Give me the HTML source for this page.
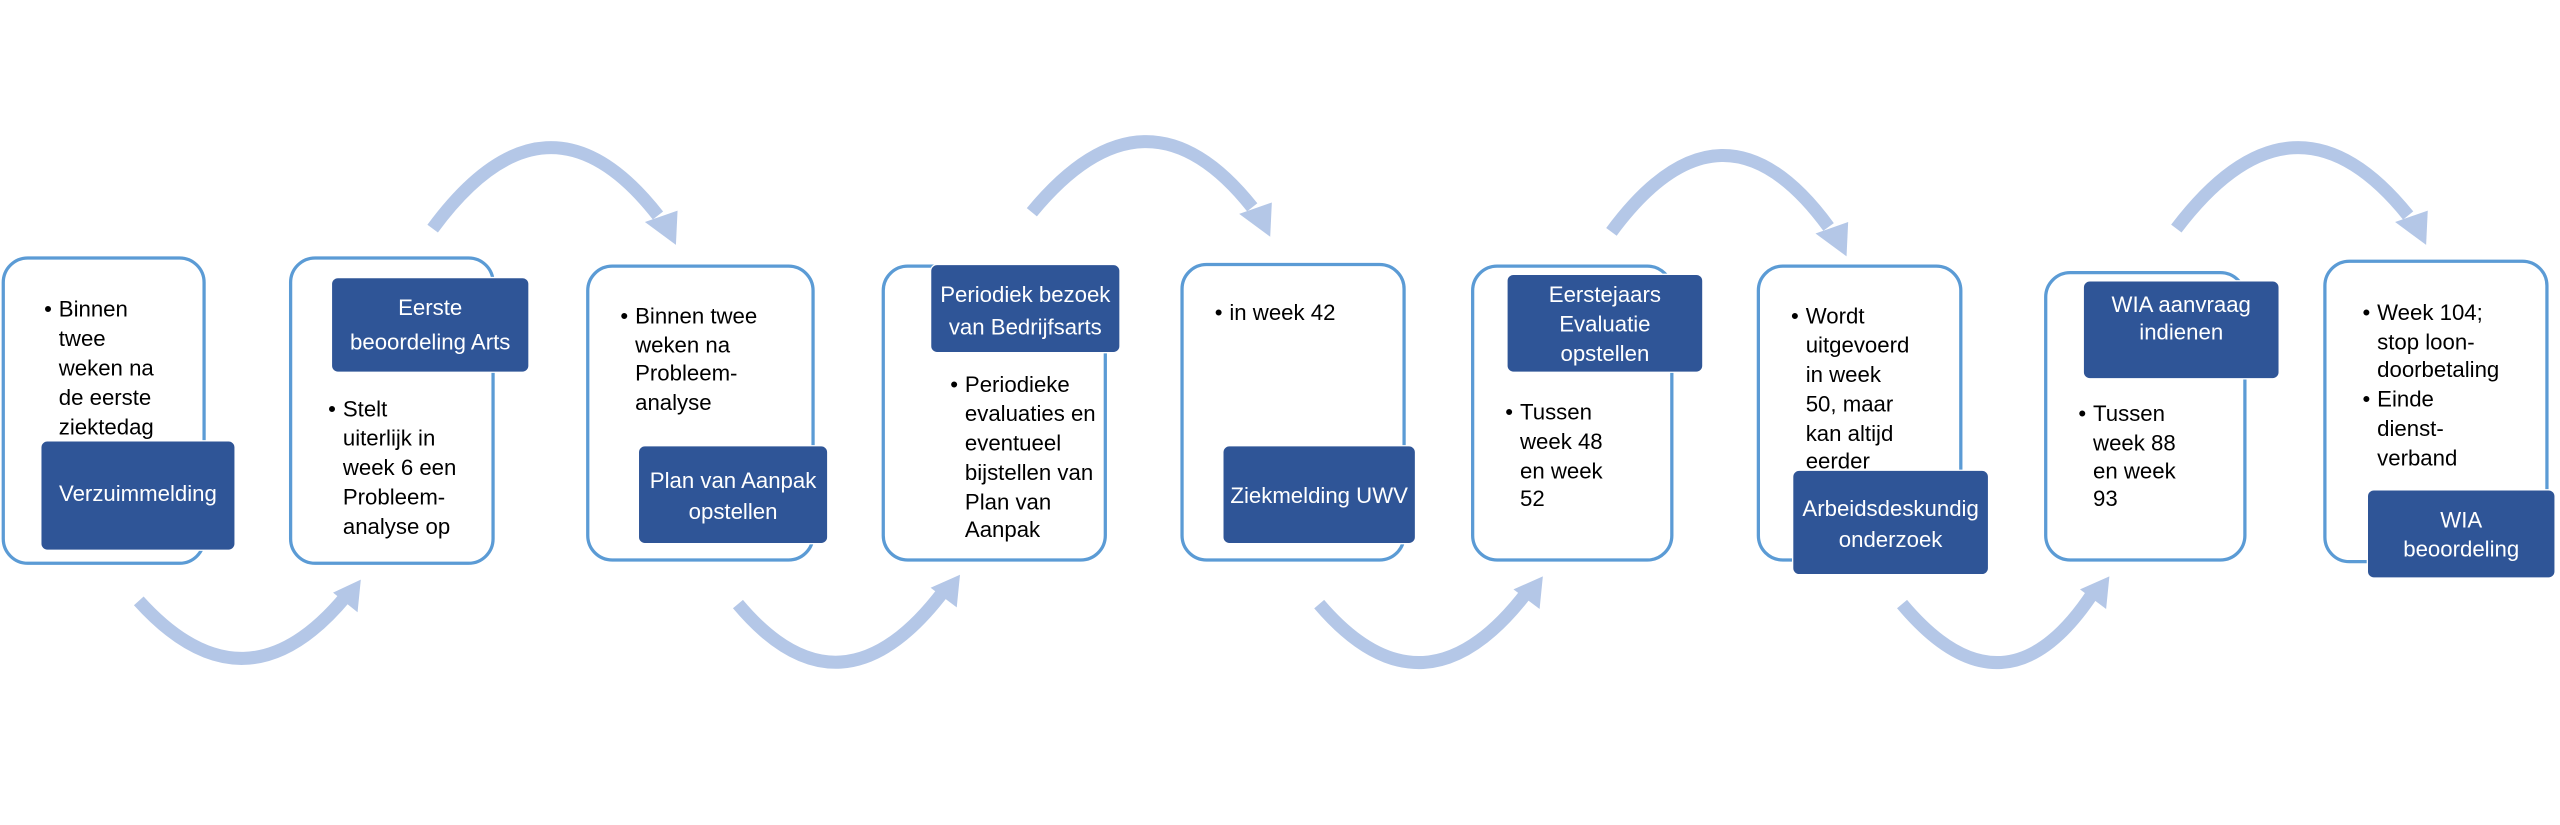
<!DOCTYPE html>
<html><head><meta charset="utf-8"><style>
html,body{margin:0;padding:0;background:#fff;width:2560px;height:825px;overflow:hidden}
svg{display:block}
text{font-family:"Liberation Sans",sans-serif;font-size:13.6px;fill:#000}
.w{fill:#fff;font-size:13.6px}
.b{fill:#fff;stroke:#5B9BD5;stroke-width:2}
.d{fill:#2F5597;stroke:#fff;stroke-width:0.8}
.a{fill:none;stroke:#B4C7E7;stroke-width:8}
.h{fill:#B4C7E7}
</style></head><body>
<svg width="2560" height="825" viewBox="0 0 1568 505.3" preserveAspectRatio="none">
<g>
<path class="a" d="M265,140 Q335,45 403,132"/><polygon class="h" points="395,136 415,129 414,150"/>
<path class="a" d="M632,130 Q702,45 767,127"/><polygon class="h" points="759,131 779,124 778,145"/>
<path class="a" d="M987,142 Q1055,50 1120,139"/><polygon class="h" points="1112,143 1132,136 1131,157"/>
<path class="a" d="M1333,140 Q1405,45 1475,132"/><polygon class="h" points="1467,136 1487,129 1486,150"/>
</g>
<g>
<path class="a" d="M85,368 Q150,440 212,365"/><polygon class="h" points="204,363 221,355 219,375"/>
<path class="a" d="M452,370 Q515,445 578,362"/><polygon class="h" points="570,360 588,352 586,372"/>
<path class="a" d="M808,370 Q872,445 935,363"/><polygon class="h" points="927,361 945,353 943,373"/>
<path class="a" d="M1165,370 Q1228,445 1282,363"/><polygon class="h" points="1274,361 1292,353 1290,373"/>
</g>
<rect class="b" x="2" y="158" width="123" height="187" rx="15"/>
<rect class="d" x="25" y="270" width="119" height="67" rx="4"/>
<text x="27" y="194">•</text><text x="36" y="194">Binnen</text><text x="36" y="212">twee</text><text x="36" y="230">weken na</text><text x="36" y="248">de eerste</text><text x="36" y="266">ziektedag</text>
<text class="w" x="84.5" y="307" text-anchor="middle">Verzuimmelding</text>

<rect class="b" x="178" y="158" width="124" height="187" rx="15"/>
<rect class="d" x="203" y="170" width="121" height="58" rx="4"/>
<text class="w" x="263.5" y="193" text-anchor="middle">Eerste</text><text class="w" x="263.5" y="214" text-anchor="middle">beoordeling Arts</text>
<text x="201" y="255">•</text><text x="210" y="255">Stelt</text><text x="210" y="273">uiterlijk in</text><text x="210" y="291">week 6 een</text><text x="210" y="309">Probleem-</text><text x="210" y="327">analyse op</text>

<rect class="b" x="360" y="163" width="138" height="180" rx="15"/>
<rect class="d" x="391" y="273" width="116" height="60" rx="4"/>
<text x="380" y="198">•</text><text x="389" y="198">Binnen twee</text><text x="389" y="216">weken na</text><text x="389" y="233">Probleem-</text><text x="389" y="251">analyse</text>
<text class="w" x="449" y="299" text-anchor="middle">Plan van Aanpak</text><text class="w" x="449" y="318" text-anchor="middle">opstellen</text>

<rect class="b" x="541" y="163" width="136" height="180" rx="15"/>
<rect class="d" x="570" y="162" width="116" height="54" rx="4"/>
<text class="w" x="628" y="185" text-anchor="middle">Periodiek bezoek</text><text class="w" x="628" y="205" text-anchor="middle">van Bedrijfsarts</text>
<text x="582" y="240">•</text><text x="591" y="240">Periodieke</text><text x="591" y="258">evaluaties en</text><text x="591" y="276">eventueel</text><text x="591" y="294">bijstellen van</text><text x="591" y="312">Plan van</text><text x="591" y="329">Aanpak</text>

<rect class="b" x="724" y="162" width="136" height="181" rx="15"/>
<rect class="d" x="749" y="273" width="118" height="60" rx="4"/>
<text x="744" y="196">•</text><text x="753" y="196">in week 42</text>
<text class="w" x="808" y="308" text-anchor="middle">Ziekmelding UWV</text>

<rect class="b" x="902" y="163" width="122" height="180" rx="15"/>
<rect class="d" x="923" y="168" width="120" height="60" rx="4"/>
<text class="w" x="983" y="185" text-anchor="middle">Eerstejaars</text><text class="w" x="983" y="203" text-anchor="middle">Evaluatie</text><text class="w" x="983" y="221" text-anchor="middle">opstellen</text>
<text x="922" y="257">•</text><text x="931" y="257">Tussen</text><text x="931" y="275">week 48</text><text x="931" y="293">en week</text><text x="931" y="310">52</text>

<rect class="b" x="1077" y="163" width="124" height="180" rx="15"/>
<rect class="d" x="1098" y="288" width="120" height="64" rx="4"/>
<text x="1097" y="198">•</text><text x="1106" y="198">Wordt</text><text x="1106" y="216">uitgevoerd</text><text x="1106" y="234">in week</text><text x="1106" y="252">50, maar</text><text x="1106" y="270">kan altijd</text><text x="1106" y="287">eerder</text>
<text class="w" x="1158" y="316" text-anchor="middle">Arbeidsdeskundig</text><text class="w" x="1158" y="335" text-anchor="middle">onderzoek</text>

<rect class="b" x="1253" y="167" width="122" height="176" rx="15"/>
<rect class="d" x="1276" y="172" width="120" height="60" rx="4"/>
<text class="w" x="1336" y="191" text-anchor="middle">WIA aanvraag</text><text class="w" x="1336" y="208" text-anchor="middle">indienen</text>
<text x="1273" y="258">•</text><text x="1282" y="258">Tussen</text><text x="1282" y="276">week 88</text><text x="1282" y="293">en week</text><text x="1282" y="310">93</text>

<rect class="b" x="1424" y="160" width="136" height="184" rx="15"/>
<rect class="d" x="1450" y="300" width="115" height="54" rx="4"/>
<text x="1447" y="196">•</text><text x="1456" y="196">Week 104;</text><text x="1456" y="214">stop loon-</text><text x="1456" y="231">doorbetaling</text>
<text x="1447" y="249">•</text><text x="1456" y="249">Einde</text><text x="1456" y="267">dienst-</text><text x="1456" y="285">verband</text>
<text class="w" x="1507.5" y="323" text-anchor="middle">WIA</text><text class="w" x="1507.5" y="341" text-anchor="middle">beoordeling</text>
</svg>
</body></html>
